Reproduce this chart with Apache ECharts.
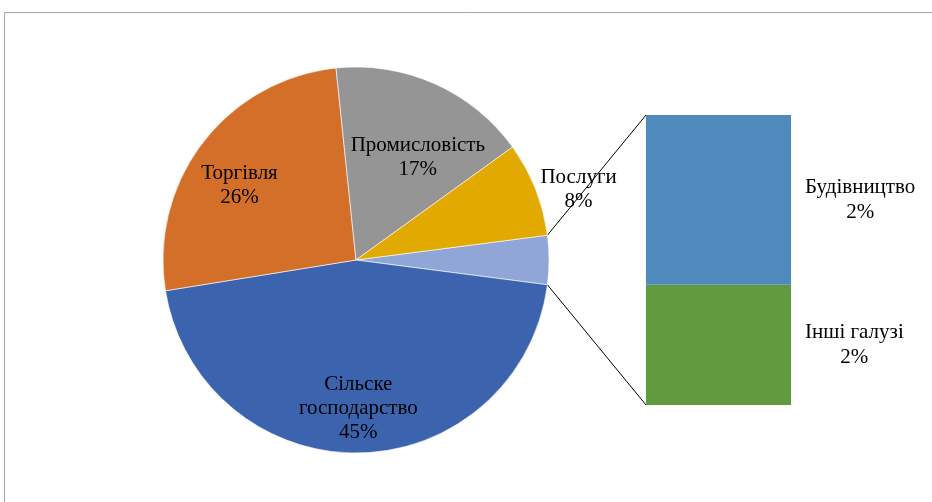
<!DOCTYPE html>
<html>
<head>
<meta charset="utf-8">
<script src="https://cdn.jsdelivr.net/npm/echarts@6/dist/echarts.min.js"></script>
<style>
  html, body { margin: 0; padding: 0; background: #fff; }
  #chart { width: 932px; height: 502px; }
</style>
</head>
<body>
<div id="chart"></div>
<script>
// основні галузі (кругова діаграма)
var pieNames = ['Сільске господарство', 'Торгівля', 'Промисловість', 'Послуги'];
var pieValues = [45.4, 25.9, 16.7, 7.9];
// решта, розкрита у стовпчику праворуч
var barNames = ['Будівництво', 'Інші галузі'];
var barValues = [2.4, 1.7];

var pieColors = ['#3c64ae', '#d46f2a', '#959595', '#e2aa00'];
var otherColor = '#8fa6d6';
var barColors = ['#4f89bd', '#629b3f'];

var font = 'Liberation Serif';
var cx = 356, cy = 260, R = 193;
var barBox = { left: 646, top: 115, width: 145, height: 290 };

var otherTotal = barValues.reduce(function (a, b) { return a + b; }, 0);
var grandTotal = otherTotal + pieValues.reduce(function (a, b) { return a + b; }, 0);
// "інші" сектор по центру праворуч (3 години)
var startAngle = otherTotal / grandTotal * 180;

var pieData = [{ name: 'Інші', value: otherTotal, itemStyle: { color: otherColor }, label: { show: false } }];
pieNames.forEach(function (n, i) {
  pieData.push({ name: n, value: pieValues[i], itemStyle: { color: pieColors[i] } });
});

// середні кути секторів (за годинниковою стрілкою від startAngle)
var midAngle = [];
var acc = startAngle;
pieData.forEach(function (d) {
  var span = d.value / grandTotal * 360;
  midAngle.push(acc - span / 2);
  acc -= span;
});
var labelR = [0, 0.77, 0.715, 0.62, 1.21];
var labelShift = [0, 0, 5, -7, -4];

function edge(deg) {
  var a = deg * Math.PI / 180;
  return [cx + R * Math.cos(a), cy - R * Math.sin(a)];
}
var upper = edge(startAngle), lower = edge(-startAngle);

var chart = echarts.init(document.getElementById('chart'));

var barSeries = [];
// нижній сегмент першим
for (var k = barNames.length - 1; k >= 0; k--) {
  (function (i) {
    barSeries.push({
      type: 'bar',
      name: barNames[i],
      stack: 'other',
      barWidth: '100%',
      itemStyle: { color: barColors[i] },
      label: {
        show: true,
        position: 'right',
        distance: 14,
        formatter: function () {
          return '{c|' + barNames[i] + '}\n{c|' + Math.round(barValues[i] / grandTotal * 100) + '%}';
        },
        rich: { c: { align: 'center', fontFamily: font, fontSize: 21, lineHeight: 25, color: '#000' } }
      },
      silent: true,
      data: [barValues[i]]
    });
  })(k);
}

chart.setOption({
  animation: false,
  backgroundColor: '#fff',
  grid: { left: barBox.left, top: barBox.top, width: barBox.width, height: barBox.height },
  xAxis: { type: 'category', data: ['Інші'], show: false },
  yAxis: { type: 'value', min: 0, max: otherTotal, show: false },
  graphic: [
    {
      type: 'rect',
      shape: { x: 4.5, y: 12.5, width: 940, height: 500 },
      style: { fill: null, stroke: '#a6a6a6', lineWidth: 1 },
      silent: true
    },
    {
      type: 'line',
      shape: { x1: upper[0], y1: upper[1], x2: barBox.left, y2: barBox.top },
      style: { stroke: '#000', lineWidth: 1 },
      silent: true
    },
    {
      type: 'line',
      shape: { x1: lower[0], y1: lower[1], x2: barBox.left, y2: barBox.top + barBox.height },
      style: { stroke: '#000', lineWidth: 1 },
      silent: true
    }
  ],
  series: [
    {
      type: 'pie',
      center: [cx, cy],
      radius: R,
      startAngle: startAngle,
      clockwise: true,
      avoidLabelOverlap: false,
      silent: true,
      itemStyle: { borderColor: '#fff', borderWidth: 0.6 },
      label: {
        show: true,
        position: 'inside',
        color: '#000',
        fontFamily: font,
        fontSize: 21,
        lineHeight: 24,
        align: 'center',
        formatter: function (p) {
          return p.name.replace(' ', '\n') + '\n' + Math.round(p.value / grandTotal * 100) + '%';
        }
      },
      labelLine: { show: false },
      labelLayout: function (p) {
        var i = p.dataIndex;
        if (i === 0) return {};
        var a = (midAngle[i] + labelShift[i]) * Math.PI / 180;
        return {
          x: cx + R * labelR[i] * Math.cos(a),
          y: cy - R * labelR[i] * Math.sin(a),
          align: 'center',
          verticalAlign: 'middle'
        };
      },
      data: pieData
    }
  ].concat(barSeries)
});
</script>
</body>
</html>
